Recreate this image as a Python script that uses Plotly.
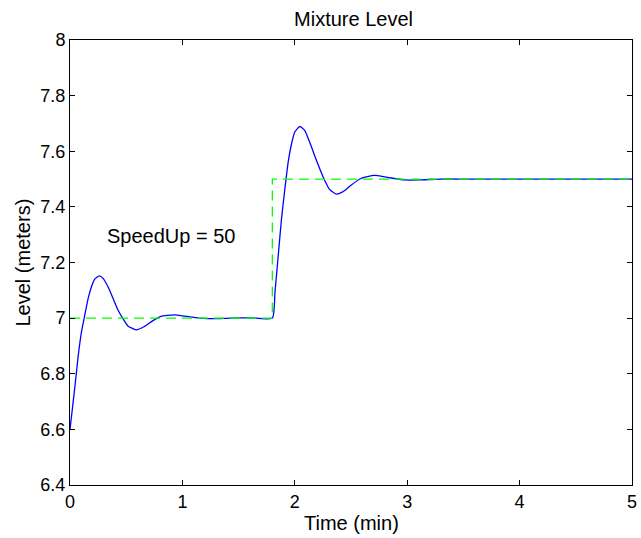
import plotly.graph_objects as go

# Level response (blue)
t_level = [0.0, 0.044, 0.074, 0.103, 0.132, 0.162, 0.191, 0.22, 0.259, 0.294,
           0.338, 0.382, 0.426, 0.471, 0.515, 0.588, 0.662, 0.735, 0.809, 0.926,
           1.044, 1.162, 1.279, 1.426, 1.6, 1.8,
           1.824, 1.853, 1.882, 1.912, 1.941, 1.971, 2.0, 2.044, 2.088, 2.132,
           2.176, 2.221, 2.265, 2.309, 2.368, 2.426, 2.5, 2.588, 2.706, 2.824,
           2.971, 3.118, 3.29, 3.53, 4.0, 4.5, 5.0]
level = [6.6, 6.755, 6.868, 6.952, 7.012, 7.072, 7.113, 7.140, 7.152, 7.143,
         7.113, 7.072, 7.030, 6.998, 6.972, 6.958, 6.970, 6.990, 7.006, 7.012,
         7.006, 7.000, 6.998, 7.000, 7.001, 7.0,
         7.095, 7.227, 7.358, 7.466, 7.561, 7.627, 7.669, 7.689, 7.675, 7.633,
         7.585, 7.538, 7.496, 7.463, 7.446, 7.454, 7.478, 7.502, 7.513, 7.506,
         7.497, 7.497, 7.5, 7.5, 7.5, 7.5, 7.5]

# Setpoint (green dashed)
t_ref = [0.0, 1.8, 1.8, 5.0]
ref = [7.0, 7.0, 7.5, 7.5]

x_ticks = [0, 1, 2, 3, 4, 5]
y_ticks = [6.4, 6.6, 6.8, 7.0, 7.2, 7.4, 7.6, 7.8, 8.0]
y_tick_text = ["6.4", "6.6", "6.8", "7", "7.2", "7.4", "7.6", "7.8", "8"]

FONT = "Liberation Sans, Arial, Helvetica, sans-serif"

fig = go.Figure()
fig.add_trace(go.Scatter(x=t_level, y=level, mode="lines",
                         line=dict(color="#0000ff", width=1.3, shape="spline", smoothing=0.5),
                         showlegend=False, hoverinfo="skip"))
fig.add_trace(go.Scatter(x=t_ref, y=ref, mode="lines",
                         line=dict(color="#00ff00", width=1.3, dash="10px,6px"),
                         showlegend=False, hoverinfo="skip"))

axis_common = dict(showline=True, linecolor="black", linewidth=1, mirror="ticks",
                   ticks="inside", ticklen=5, tickcolor="black", tickwidth=1,
                   showgrid=False, zeroline=False, ticklabeloverflow="allow",
                   tickfont=dict(family=FONT, size=18, color="black"))

fig.update_xaxes(range=[0, 5], tickvals=x_ticks, **axis_common)
fig.update_yaxes(range=[6.4, 8.0], tickvals=y_ticks, ticktext=y_tick_text, **axis_common)

fig.update_layout(
    width=641, height=538,
    margin=dict(l=70, r=4, t=40, b=53),
    paper_bgcolor="white", plot_bgcolor="white",
    font=dict(family=FONT, color="black"),
    title=dict(text="Mixture Level", x=(70 + 637) / 2 / 641, xanchor="center",
               y=1 - 19 / 538, yanchor="middle", yref="container",
               font=dict(family=FONT, size=20, color="black")),
    annotations=[
        dict(text="Time (min)", xref="paper", yref="paper", x=0.5, y=0,
             yshift=-37.5, xanchor="center", yanchor="middle", showarrow=False,
             font=dict(family=FONT, size=20, color="black")),
        dict(text="Level (meters)", xref="paper", yref="paper", x=0, y=0.5,
             xshift=-48, xanchor="center", yanchor="middle", textangle=-90,
             showarrow=False, font=dict(family=FONT, size=20, color="black")),
        dict(text="SpeedUp = 50", xref="x", yref="y", x=0.31, y=7.295,
             xanchor="left", yanchor="middle", showarrow=False,
             font=dict(family=FONT, size=20, color="black")),
    ],
)

fig.write_html("out.html")
